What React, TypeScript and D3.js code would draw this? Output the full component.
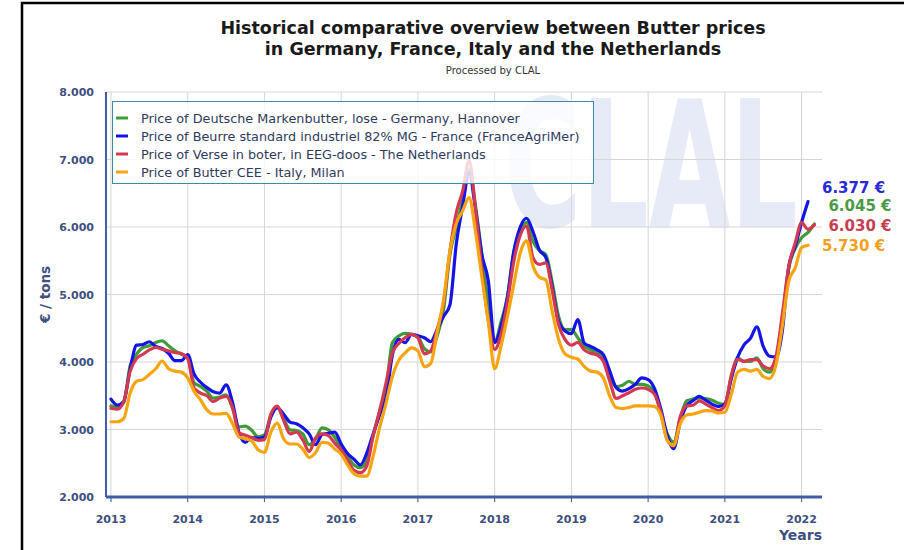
import React from 'react';
import * as d3 from 'd3';

// monthly prices (€/t), first point = Jan 2013
const germany = [
  3350, 3330, 3400, 3950, 4115, 4215, 4240, 4290, 4315, 4240, 4165, 4115,
  4065, 3690, 3640, 3565, 3465, 3480, 3515, 3315, 3040, 3050, 2990, 2890,
  2920, 3210, 3325, 3160, 2995, 2985, 2935, 2775, 2860, 3025, 2995, 2885,
  2725, 2595, 2475, 2435, 2535, 2910, 3260, 3585, 4285, 4385, 4425, 4410,
  4370, 4200, 4150, 4385, 4770, 5590, 6000, 6410, 6850, 6315, 5590, 4870,
  4290, 4600, 4965, 5640, 5930, 6070, 5785, 5650, 5590, 5180, 4675, 4480,
  4480, 4360, 4240, 4180, 4130, 4045, 3800, 3635, 3655, 3715, 3670, 3670,
  3645, 3555, 3230, 2935, 2815, 3155, 3425, 3450, 3470, 3460, 3435, 3390,
  3375, 3780, 4060, 4010, 4010, 4060, 3900, 3850, 4035, 4665, 5395, 5685,
  5840, 5920, 6045,
];
const france = [
  3450, 3360, 3420, 3900, 4250, 4260, 4300, 4230, 4200, 4130, 4020, 4020,
  4110, 3820, 3700, 3620, 3560, 3540, 3660, 3400, 2960, 2810, 2880, 2870,
  2890, 3185, 3325, 3225, 3110, 3085, 3025, 2935, 2775, 2925, 2945, 2960,
  2785, 2645, 2560, 2475, 2650, 2935, 3210, 3460, 4100, 4335, 4285, 4410,
  4390, 4360, 4300, 4480, 4675, 4845, 5750, 6310, 6800, 6265, 5590, 5205,
  4290, 4530, 4965, 5640, 6000, 6130, 5930, 5660, 5550, 5110, 4600, 4460,
  4420, 4630, 4280, 4230, 4180, 4110, 3865, 3620, 3570, 3605, 3670, 3765,
  3740, 3605, 3300, 2910, 2715, 3105, 3350, 3425, 3490, 3435, 3375, 3340,
  3380, 3750, 4070, 4255, 4350, 4520, 4230, 4085, 4075, 4470, 5420, 5710,
  6070, 6377,
];
const netherlands = [
  3315, 3300, 3415, 3865, 4050, 4115, 4180, 4215, 4190, 4165, 4140, 4125,
  4050, 3615, 3540, 3500, 3415, 3465, 3490, 3330, 2950, 2915, 2880, 2840,
  2850, 3225, 3345, 3135, 2935, 2960, 2845, 2675, 2875, 2935, 2910, 2795,
  2695, 2545, 2395, 2360, 2460, 2910, 3275, 3685, 4135, 4275, 4360, 4410,
  4360, 4120, 4165, 4480, 4870, 5640, 6215, 6530, 6990, 6265, 5350, 4625,
  4185, 4410, 4890, 5495, 5880, 6015, 5540, 5445, 5470, 5060, 4555, 4335,
  4250, 4290, 4180, 4130, 4105, 4010, 3715, 3460, 3500, 3545, 3595, 3615,
  3595, 3520, 3255, 2840, 2755, 3180, 3350, 3360, 3425, 3375, 3325, 3280,
  3350, 3800, 4040, 4010, 4035, 4035, 3940, 3900, 4085, 4715, 5420, 5760,
  6065, 5965, 6030,
];
const italy = [
  3115, 3115, 3165, 3540, 3715, 3740, 3815, 3900, 4015, 3900, 3865, 3850,
  3765, 3565, 3440, 3290, 3230, 3230, 3240, 3090, 2890, 2865, 2830, 2700,
  2660, 2960, 3095, 2860, 2785, 2785, 2710, 2585, 2660, 2810, 2795, 2710,
  2635, 2475, 2345, 2310, 2310, 2610, 3025, 3385, 3785, 4025, 4135, 4210,
  4165, 3930, 3980, 4435, 4915, 5640, 6050, 6240, 6435, 5930, 5255, 4600,
  3900, 4240, 4675, 5155, 5615, 5795, 5420, 5255, 5215, 4750, 4335, 4120,
  4070, 4045, 3935, 3865, 3850, 3765, 3495, 3325, 3310, 3325, 3350, 3350,
  3350, 3340, 3205, 2840, 2765, 3080, 3215, 3230, 3255, 3280, 3275, 3245,
  3255, 3520, 3850, 3890, 3865, 3890, 3785, 3755, 3960, 4545, 5200, 5395,
  5695, 5730,
];

const years = [2013, 2014, 2015, 2016, 2017, 2018, 2019, 2020, 2021, 2022];
const yTicks = [2000, 3000, 4000, 5000, 6000, 7000, 8000];

const series = [
  { name: 'Price of Deutsche Markenbutter, lose - Germany, Hannover', color: '#3f9b3a', label: '#4c9a44', values: germany, dy: -18 },
  { name: 'Price of Beurre standard industriel 82% MG - France (FranceAgriMer)', color: '#1414e6', label: '#2a2ad8', values: france, dy: -14 },
  { name: 'Price of Verse in boter, in EEG-doos - The Netherlands', color: '#d33a52', label: '#c8404f', values: netherlands, dy: 1 },
  { name: 'Price of Butter CEE - Italy, Milan', color: '#f6a511', label: '#f0a21e', values: italy, dy: 1 },
];

const fmt = (v: number) => d3.format(',.0f')(v).replace(',', '.');

export default function App() {
  const left = 106;
  const right = 822;
  const top = 92;
  const bottom = 497;

  const x = d3.scaleLinear().domain([2013, 2022]).range([111, 801.6]);
  const y = d3.scaleLinear().domain([2000, 8000]).range([bottom, top]);

  const line = d3
    .line<number>()
    .x((_, i) => x(2013 + i / 12))
    .y(d => y(d))
    .curve(d3.curveMonotoneX);

  const axisColor = '#3f5ea6';
  const textColor = '#3e4f80';
  const font = '"DejaVu Sans", Verdana, sans-serif';

  return (
    <div style={{ position: 'absolute', left: 0, top: 0, width: 904, height: 550, background: '#fff' }}>
      <svg width={904} height={550} style={{ display: 'block', fontFamily: font }}>
        <rect x={22} y={3} width={900} height={600} fill="#fff" stroke="#000" strokeWidth={2.5} />

        {/* watermark */}
        <text
          x={0}
          y={0}
          transform="translate(504,227) scale(0.6,1)"
          fontSize={176}
          fontWeight="bold"
          fill="#e7ebf8"
        >
          CLAL
        </text>

        <text x={493} y={34} textAnchor="middle" fontSize={17.5} fontWeight="bold" fill="#1a1a1a">
          Historical comparative overview between Butter prices
        </text>
        <text x={493} y={55} textAnchor="middle" fontSize={17.5} fontWeight="bold" fill="#1a1a1a">
          in Germany, France, Italy and the Netherlands
        </text>
        <text x={493} y={74} textAnchor="middle" fontSize={10} fill="#333">
          Processed by CLAL
        </text>

        {/* grid */}
        {yTicks.map(t => (
          <line key={'h' + t} x1={left} x2={right} y1={y(t)} y2={y(t)} stroke="#d6d6d6" strokeWidth={1} />
        ))}
        {years.map(t => (
          <line key={'v' + t} x1={x(t)} x2={x(t)} y1={top} y2={bottom + 5} stroke="#d6d6d6" strokeWidth={1} />
        ))}

        {/* series */}
        {series.map(s => (
          <path
            key={s.name}
            d={line(s.values) as string}
            fill="none"
            stroke={s.color}
            strokeWidth={3.2}
            strokeLinejoin="round"
            strokeLinecap="round"
          />
        ))}

        {/* axes */}
        <line x1={left} x2={left} y1={top} y2={bottom} stroke={axisColor} strokeWidth={2} />
        <line x1={left} x2={right} y1={bottom} y2={bottom} stroke={axisColor} strokeWidth={3} />
        {years.map(t => (
          <line key={'t' + t} x1={x(t)} x2={x(t)} y1={bottom} y2={bottom + 5} stroke={axisColor} strokeWidth={1} />
        ))}
        {yTicks.map(t => (
          <text key={'yl' + t} x={94} y={y(t) + 4} textAnchor="end" fontSize={11} fontWeight="bold" fill={textColor}>
            {fmt(t)}
          </text>
        ))}
        {years.map(t => (
          <text key={'xl' + t} x={x(t)} y={523} textAnchor="middle" fontSize={11} fontWeight="bold" fill={textColor}>
            {t}
          </text>
        ))}
        <text x={right} y={540} textAnchor="end" fontSize={14} fontWeight="bold" fill={textColor}>
          Years
        </text>
        <text
          transform={`translate(50,${(top + bottom) / 2}) rotate(-90)`}
          textAnchor="middle"
          fontSize={13.5}
          fontWeight="bold"
          fill={textColor}
        >
          € / tons
        </text>

        {/* end labels */}
        {series.map(s => {
          const last = s.values[s.values.length - 1];
          const lx = x(2013 + (s.values.length - 1) / 12);
          return (
            <text
              key={'e' + s.name}
              x={lx + 14}
              y={y(last) + s.dy + 5}
              fontSize={15}
              fontWeight="bold"
              fill={s.label}
            >
              {fmt(last)} €
            </text>
          );
        })}

        {/* legend */}
        <rect x={112.5} y={101.5} width={481} height={82} fill="#fff" fillOpacity={0.8} stroke="#3b8aa6" strokeWidth={1} />
        {series.map((s, i) => (
          <g key={'lg' + s.name} transform={`translate(116,${118 + i * 18})`}>
            <line x1={0} x2={12} y1={0} y2={0} stroke={s.color} strokeWidth={3} />
            <text x={25} y={4.5} fontSize={12.8} fill="#2f3b5e">
              {s.name}
            </text>
          </g>
        ))}
      </svg>
    </div>
  );
}
